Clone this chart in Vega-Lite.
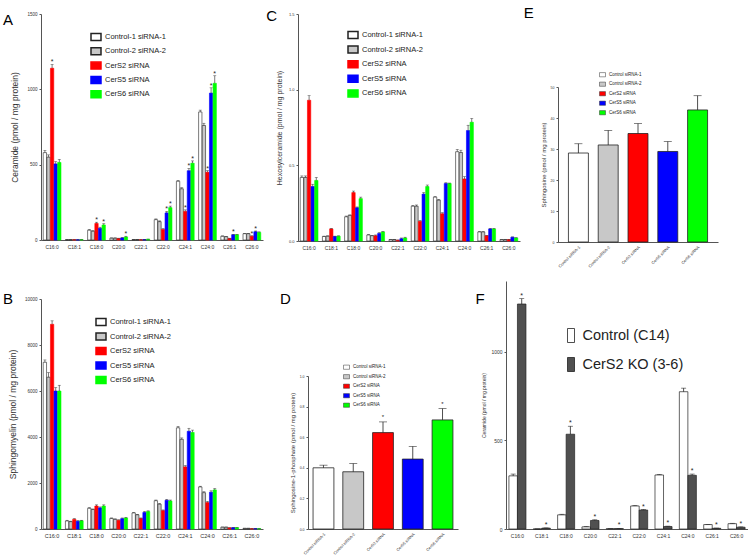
{
"$schema": "https://vega.github.io/schema/vega-lite/v6.json",
"background": "white",
"padding": {"left": 3, "top": 6, "right": 0, "bottom": 0},
"config": {
 "view": {"stroke": null},
 "font": "Liberation Sans",
 "axis": {"grid": false, "domainColor": "#555", "tickColor": "#555", "labelColor": "#333", "titleColor": "#333", "titleFontWeight": "normal", "domainWidth": 1},
 "legend": {"padding": 0, "labelColor": "#222", "labelFont": "Liberation Sans"},
 "title": {"anchor": "start", "frame": "group", "orient": "top", "offset": 0, "fontSize": 15, "fontWeight": "normal", "baseline": "bottom", "align": "left", "color": "#000"}
},
"datasets": {
 "A": [
  {"lipid":"C16:0","g":"Control-1 siRNA-1","v":580,"hi":595,"s":""},
  {"lipid":"C16:0","g":"Control-2 siRNA-2","v":550,"hi":565,"s":""},
  {"lipid":"C16:0","g":"CerS2 siRNA","v":1140,"hi":1165,"s":"*"},
  {"lipid":"C16:0","g":"CerS5 siRNA","v":505,"hi":520,"s":""},
  {"lipid":"C16:0","g":"CerS6 siRNA","v":515,"hi":535,"s":""},
  {"lipid":"C18:1","g":"Control-1 siRNA-1","v":2,"hi":3,"s":""},
  {"lipid":"C18:1","g":"Control-2 siRNA-2","v":2,"hi":3,"s":""},
  {"lipid":"C18:1","g":"CerS2 siRNA","v":2,"hi":3,"s":""},
  {"lipid":"C18:1","g":"CerS5 siRNA","v":2,"hi":3,"s":""},
  {"lipid":"C18:1","g":"CerS6 siRNA","v":2,"hi":3,"s":""},
  {"lipid":"C18:0","g":"Control-1 siRNA-1","v":65,"hi":70,"s":""},
  {"lipid":"C18:0","g":"Control-2 siRNA-2","v":58,"hi":62,"s":""},
  {"lipid":"C18:0","g":"CerS2 siRNA","v":110,"hi":118,"s":"*"},
  {"lipid":"C18:0","g":"CerS5 siRNA","v":78,"hi":85,"s":""},
  {"lipid":"C18:0","g":"CerS6 siRNA","v":100,"hi":108,"s":"*"},
  {"lipid":"C20:0","g":"Control-1 siRNA-1","v":12,"hi":14,"s":""},
  {"lipid":"C20:0","g":"Control-2 siRNA-2","v":12,"hi":14,"s":""},
  {"lipid":"C20:0","g":"CerS2 siRNA","v":10,"hi":12,"s":""},
  {"lipid":"C20:0","g":"CerS5 siRNA","v":14,"hi":16,"s":""},
  {"lipid":"C20:0","g":"CerS6 siRNA","v":20,"hi":25,"s":"*"},
  {"lipid":"C22:1","g":"Control-1 siRNA-1","v":3,"hi":4,"s":""},
  {"lipid":"C22:1","g":"Control-2 siRNA-2","v":3,"hi":4,"s":""},
  {"lipid":"C22:1","g":"CerS2 siRNA","v":2,"hi":3,"s":""},
  {"lipid":"C22:1","g":"CerS5 siRNA","v":3,"hi":4,"s":""},
  {"lipid":"C22:1","g":"CerS6 siRNA","v":5,"hi":6,"s":""},
  {"lipid":"C22:0","g":"Control-1 siRNA-1","v":135,"hi":140,"s":""},
  {"lipid":"C22:0","g":"Control-2 siRNA-2","v":122,"hi":127,"s":""},
  {"lipid":"C22:0","g":"CerS2 siRNA","v":70,"hi":76,"s":""},
  {"lipid":"C22:0","g":"CerS5 siRNA","v":180,"hi":190,"s":"*"},
  {"lipid":"C22:0","g":"CerS6 siRNA","v":215,"hi":225,"s":"*"},
  {"lipid":"C24:1","g":"Control-1 siRNA-1","v":390,"hi":395,"s":""},
  {"lipid":"C24:1","g":"Control-2 siRNA-2","v":340,"hi":347,"s":""},
  {"lipid":"C24:1","g":"CerS2 siRNA","v":190,"hi":200,"s":"*"},
  {"lipid":"C24:1","g":"CerS5 siRNA","v":460,"hi":475,"s":"*"},
  {"lipid":"C24:1","g":"CerS6 siRNA","v":510,"hi":525,"s":"*"},
  {"lipid":"C24:0","g":"Control-1 siRNA-1","v":850,"hi":862,"s":""},
  {"lipid":"C24:0","g":"Control-2 siRNA-2","v":760,"hi":775,"s":""},
  {"lipid":"C24:0","g":"CerS2 siRNA","v":450,"hi":460,"s":"*"},
  {"lipid":"C24:0","g":"CerS5 siRNA","v":975,"hi":1010,"s":"*"},
  {"lipid":"C24:0","g":"CerS6 siRNA","v":1040,"hi":1090,"s":"*"},
  {"lipid":"C26:1","g":"Control-1 siRNA-1","v":25,"hi":27,"s":""},
  {"lipid":"C26:1","g":"Control-2 siRNA-2","v":22,"hi":24,"s":""},
  {"lipid":"C26:1","g":"CerS2 siRNA","v":10,"hi":12,"s":""},
  {"lipid":"C26:1","g":"CerS5 siRNA","v":35,"hi":38,"s":"*"},
  {"lipid":"C26:1","g":"CerS6 siRNA","v":35,"hi":38,"s":""},
  {"lipid":"C26:0","g":"Control-1 siRNA-1","v":42,"hi":44,"s":""},
  {"lipid":"C26:0","g":"Control-2 siRNA-2","v":42,"hi":44,"s":""},
  {"lipid":"C26:0","g":"CerS2 siRNA","v":25,"hi":28,"s":"*"},
  {"lipid":"C26:0","g":"CerS5 siRNA","v":55,"hi":60,"s":"*"},
  {"lipid":"C26:0","g":"CerS6 siRNA","v":50,"hi":54,"s":""}
 ],
 "B": [
  {"lipid":"C16:0","g":"Control-1 siRNA-1","v":7250,"hi":7350},
  {"lipid":"C16:0","g":"Control-2 siRNA-2","v":6600,"hi":6800},
  {"lipid":"C16:0","g":"CerS2 siRNA","v":8900,"hi":9050},
  {"lipid":"C16:0","g":"CerS5 siRNA","v":6000,"hi":6150},
  {"lipid":"C16:0","g":"CerS6 siRNA","v":6000,"hi":6250},
  {"lipid":"C18:1","g":"Control-1 siRNA-1","v":350,"hi":380},
  {"lipid":"C18:1","g":"Control-2 siRNA-2","v":320,"hi":340},
  {"lipid":"C18:1","g":"CerS2 siRNA","v":420,"hi":450},
  {"lipid":"C18:1","g":"CerS5 siRNA","v":340,"hi":360},
  {"lipid":"C18:1","g":"CerS6 siRNA","v":360,"hi":380},
  {"lipid":"C18:0","g":"Control-1 siRNA-1","v":900,"hi":930},
  {"lipid":"C18:0","g":"Control-2 siRNA-2","v":850,"hi":870},
  {"lipid":"C18:0","g":"CerS2 siRNA","v":1000,"hi":1050},
  {"lipid":"C18:0","g":"CerS5 siRNA","v":920,"hi":960},
  {"lipid":"C18:0","g":"CerS6 siRNA","v":1000,"hi":1050},
  {"lipid":"C20:0","g":"Control-1 siRNA-1","v":460,"hi":480},
  {"lipid":"C20:0","g":"Control-2 siRNA-2","v":420,"hi":440},
  {"lipid":"C20:0","g":"CerS2 siRNA","v":380,"hi":400},
  {"lipid":"C20:0","g":"CerS5 siRNA","v":450,"hi":480},
  {"lipid":"C20:0","g":"CerS6 siRNA","v":480,"hi":510},
  {"lipid":"C22:1","g":"Control-1 siRNA-1","v":700,"hi":720},
  {"lipid":"C22:1","g":"Control-2 siRNA-2","v":620,"hi":640},
  {"lipid":"C22:1","g":"CerS2 siRNA","v":460,"hi":480},
  {"lipid":"C22:1","g":"CerS5 siRNA","v":720,"hi":760},
  {"lipid":"C22:1","g":"CerS6 siRNA","v":760,"hi":790},
  {"lipid":"C22:0","g":"Control-1 siRNA-1","v":1230,"hi":1260},
  {"lipid":"C22:0","g":"Control-2 siRNA-2","v":1080,"hi":1110},
  {"lipid":"C22:0","g":"CerS2 siRNA","v":800,"hi":830},
  {"lipid":"C22:0","g":"CerS5 siRNA","v":1250,"hi":1290},
  {"lipid":"C22:0","g":"CerS6 siRNA","v":1220,"hi":1260},
  {"lipid":"C24:1","g":"Control-1 siRNA-1","v":4400,"hi":4460},
  {"lipid":"C24:1","g":"Control-2 siRNA-2","v":3900,"hi":3960},
  {"lipid":"C24:1","g":"CerS2 siRNA","v":2700,"hi":2760},
  {"lipid":"C24:1","g":"CerS5 siRNA","v":4250,"hi":4380},
  {"lipid":"C24:1","g":"CerS6 siRNA","v":4200,"hi":4300},
  {"lipid":"C24:0","g":"Control-1 siRNA-1","v":1830,"hi":1860},
  {"lipid":"C24:0","g":"Control-2 siRNA-2","v":1580,"hi":1620},
  {"lipid":"C24:0","g":"CerS2 siRNA","v":1150,"hi":1200},
  {"lipid":"C24:0","g":"CerS5 siRNA","v":1600,"hi":1660},
  {"lipid":"C24:0","g":"CerS6 siRNA","v":1700,"hi":1760},
  {"lipid":"C26:1","g":"Control-1 siRNA-1","v":80,"hi":85},
  {"lipid":"C26:1","g":"Control-2 siRNA-2","v":80,"hi":85},
  {"lipid":"C26:1","g":"CerS2 siRNA","v":50,"hi":55},
  {"lipid":"C26:1","g":"CerS5 siRNA","v":60,"hi":65},
  {"lipid":"C26:1","g":"CerS6 siRNA","v":60,"hi":65},
  {"lipid":"C26:0","g":"Control-1 siRNA-1","v":30,"hi":33},
  {"lipid":"C26:0","g":"Control-2 siRNA-2","v":30,"hi":33},
  {"lipid":"C26:0","g":"CerS2 siRNA","v":15,"hi":18},
  {"lipid":"C26:0","g":"CerS5 siRNA","v":20,"hi":23},
  {"lipid":"C26:0","g":"CerS6 siRNA","v":15,"hi":18}
 ],
 "C": [
  {"lipid":"C16:0","g":"Control-1 siRNA-1","v":0.42,"hi":0.43},
  {"lipid":"C16:0","g":"Control-2 siRNA-2","v":0.42,"hi":0.43},
  {"lipid":"C16:0","g":"CerS2 siRNA","v":0.93,"hi":0.96},
  {"lipid":"C16:0","g":"CerS5 siRNA","v":0.36,"hi":0.375},
  {"lipid":"C16:0","g":"CerS6 siRNA","v":0.40,"hi":0.42},
  {"lipid":"C18:1","g":"Control-1 siRNA-1","v":0.03,"hi":0.032},
  {"lipid":"C18:1","g":"Control-2 siRNA-2","v":0.032,"hi":0.034},
  {"lipid":"C18:1","g":"CerS2 siRNA","v":0.08,"hi":0.083},
  {"lipid":"C18:1","g":"CerS5 siRNA","v":0.03,"hi":0.032},
  {"lipid":"C18:1","g":"CerS6 siRNA","v":0.032,"hi":0.034},
  {"lipid":"C18:0","g":"Control-1 siRNA-1","v":0.16,"hi":0.165},
  {"lipid":"C18:0","g":"Control-2 siRNA-2","v":0.17,"hi":0.172},
  {"lipid":"C18:0","g":"CerS2 siRNA","v":0.32,"hi":0.33},
  {"lipid":"C18:0","g":"CerS5 siRNA","v":0.22,"hi":0.225},
  {"lipid":"C18:0","g":"CerS6 siRNA","v":0.28,"hi":0.29},
  {"lipid":"C20:0","g":"Control-1 siRNA-1","v":0.04,"hi":0.042},
  {"lipid":"C20:0","g":"Control-2 siRNA-2","v":0.035,"hi":0.037},
  {"lipid":"C20:0","g":"CerS2 siRNA","v":0.035,"hi":0.04},
  {"lipid":"C20:0","g":"CerS5 siRNA","v":0.05,"hi":0.055},
  {"lipid":"C20:0","g":"CerS6 siRNA","v":0.06,"hi":0.063},
  {"lipid":"C22:1","g":"Control-1 siRNA-1","v":0.01,"hi":0.011},
  {"lipid":"C22:1","g":"Control-2 siRNA-2","v":0.01,"hi":0.011},
  {"lipid":"C22:1","g":"CerS2 siRNA","v":0.005,"hi":0.007},
  {"lipid":"C22:1","g":"CerS5 siRNA","v":0.015,"hi":0.02},
  {"lipid":"C22:1","g":"CerS6 siRNA","v":0.02,"hi":0.025},
  {"lipid":"C22:0","g":"Control-1 siRNA-1","v":0.23,"hi":0.235},
  {"lipid":"C22:0","g":"Control-2 siRNA-2","v":0.23,"hi":0.238},
  {"lipid":"C22:0","g":"CerS2 siRNA","v":0.13,"hi":0.135},
  {"lipid":"C22:0","g":"CerS5 siRNA","v":0.31,"hi":0.32},
  {"lipid":"C22:0","g":"CerS6 siRNA","v":0.36,"hi":0.37},
  {"lipid":"C24:1","g":"Control-1 siRNA-1","v":0.29,"hi":0.293},
  {"lipid":"C24:1","g":"Control-2 siRNA-2","v":0.27,"hi":0.275},
  {"lipid":"C24:1","g":"CerS2 siRNA","v":0.18,"hi":0.187},
  {"lipid":"C24:1","g":"CerS5 siRNA","v":0.38,"hi":0.385},
  {"lipid":"C24:1","g":"CerS6 siRNA","v":0.38,"hi":0.383},
  {"lipid":"C24:0","g":"Control-1 siRNA-1","v":0.59,"hi":0.605},
  {"lipid":"C24:0","g":"Control-2 siRNA-2","v":0.585,"hi":0.6},
  {"lipid":"C24:0","g":"CerS2 siRNA","v":0.41,"hi":0.425},
  {"lipid":"C24:0","g":"CerS5 siRNA","v":0.73,"hi":0.765},
  {"lipid":"C24:0","g":"CerS6 siRNA","v":0.785,"hi":0.81},
  {"lipid":"C26:1","g":"Control-1 siRNA-1","v":0.06,"hi":0.062},
  {"lipid":"C26:1","g":"Control-2 siRNA-2","v":0.06,"hi":0.062},
  {"lipid":"C26:1","g":"CerS2 siRNA","v":0.035,"hi":0.037},
  {"lipid":"C26:1","g":"CerS5 siRNA","v":0.08,"hi":0.083},
  {"lipid":"C26:1","g":"CerS6 siRNA","v":0.08,"hi":0.083},
  {"lipid":"C26:0","g":"Control-1 siRNA-1","v":0.01,"hi":0.011},
  {"lipid":"C26:0","g":"Control-2 siRNA-2","v":0.01,"hi":0.011},
  {"lipid":"C26:0","g":"CerS2 siRNA","v":0.01,"hi":0.011},
  {"lipid":"C26:0","g":"CerS5 siRNA","v":0.025,"hi":0.027},
  {"lipid":"C26:0","g":"CerS6 siRNA","v":0.02,"hi":0.022}
 ],
 "E": [
  {"g":"Control siRNA-1","v":28.7,"hi":31.7,"s":""},
  {"g":"Control siRNA-2","v":31.3,"hi":36,"s":""},
  {"g":"CerS2 siRNA","v":35,"hi":38.2,"s":""},
  {"g":"CerS5 siRNA","v":29.2,"hi":32.4,"s":""},
  {"g":"CerS6 siRNA","v":42.6,"hi":47.2,"s":""}
 ],
 "D": [
  {"g":"Control siRNA-1","v":0.40,"hi":0.417,"s":""},
  {"g":"Control siRNA-2","v":0.374,"hi":0.428,"s":""},
  {"g":"CerS2 siRNA","v":0.63,"hi":0.70,"s":"*"},
  {"g":"CerS5 siRNA","v":0.457,"hi":0.54,"s":""},
  {"g":"CerS6 siRNA","v":0.713,"hi":0.787,"s":"*"}
 ],
 "F": [
  {"lipid":"C16:0","g":"Control (C14)","v":300,"hi":310,"s":""},
  {"lipid":"C16:0","g":"CerS2 KO (3-6)","v":1270,"hi":1300,"s":"*"},
  {"lipid":"C18:1","g":"Control (C14)","v":0,"hi":0,"s":""},
  {"lipid":"C18:1","g":"CerS2 KO (3-6)","v":5,"hi":6,"s":"*"},
  {"lipid":"C18:0","g":"Control (C14)","v":80,"hi":83,"s":""},
  {"lipid":"C18:0","g":"CerS2 KO (3-6)","v":535,"hi":580,"s":"*"},
  {"lipid":"C20:0","g":"Control (C14)","v":12,"hi":14,"s":""},
  {"lipid":"C20:0","g":"CerS2 KO (3-6)","v":48,"hi":52,"s":"*"},
  {"lipid":"C22:1","g":"Control (C14)","v":2,"hi":2,"s":""},
  {"lipid":"C22:1","g":"CerS2 KO (3-6)","v":2,"hi":3,"s":"*"},
  {"lipid":"C22:0","g":"Control (C14)","v":130,"hi":132,"s":""},
  {"lipid":"C22:0","g":"CerS2 KO (3-6)","v":107,"hi":110,"s":"*"},
  {"lipid":"C24:1","g":"Control (C14)","v":305,"hi":308,"s":""},
  {"lipid":"C24:1","g":"CerS2 KO (3-6)","v":14,"hi":16,"s":"*"},
  {"lipid":"C24:0","g":"Control (C14)","v":775,"hi":795,"s":""},
  {"lipid":"C24:0","g":"CerS2 KO (3-6)","v":303,"hi":310,"s":"*"},
  {"lipid":"C26:1","g":"Control (C14)","v":25,"hi":26,"s":""},
  {"lipid":"C26:1","g":"CerS2 KO (3-6)","v":4,"hi":5,"s":"*"},
  {"lipid":"C26:0","g":"Control (C14)","v":30,"hi":32,"s":""},
  {"lipid":"C26:0","g":"CerS2 KO (3-6)","v":10,"hi":12,"s":"*"}
 ]
},
"resolve": {"scale": {"fill": "independent", "stroke": "independent", "x": "independent", "y": "independent", "xOffset": "independent"}},
"spacing": 12,
"vconcat": [
 {
  "spacing": 3,
  "resolve": {"scale": {"fill": "independent", "stroke": "independent", "x": "independent", "y": "independent", "xOffset": "independent"}},
  "hconcat": [
   {
    "width": 222, "height": 226,
    "data": {"name": "A"},
    "title": {"text": "A", "dx": -38, "dy": 21},
    "encoding": {
     "x": {"field": "lipid", "type": "nominal", "sort": ["C16:0","C18:1","C18:0","C20:0","C22:1","C22:0","C24:1","C24:0","C26:1","C26:0"], "scale": {"paddingInner": 0.2, "paddingOuter": 0.1}, "axis": {"title": null, "labelAngle": 0, "ticks": false, "labelFontSize": 5, "labelPadding": 4}},
     "xOffset": {"field": "g", "type": "nominal", "sort": ["Control-1 siRNA-1","Control-2 siRNA-2","CerS2 siRNA","CerS5 siRNA","CerS6 siRNA"], "scale": {"paddingInner": 0.08}}
    },
    "layer": [
     {"mark": {"type": "bar", "strokeWidth": 0.6},
      "encoding": {
       "y": {"field": "v", "type": "quantitative", "title": "Ceramide (pmol / mg protein)", "scale": {"domain": [0, 1500], "nice": false}, "axis": {"values": [0, 500, 1000, 1500], "format": "d", "labelFontSize": 4.5, "tickSize": 2, "labelPadding": 2, "titleFontSize": 8.5, "titlePadding": 7}},
       "fill": {"field": "g", "type": "nominal", "scale": {"domain": ["Control-1 siRNA-1","Control-2 siRNA-2","CerS2 siRNA","CerS5 siRNA","CerS6 siRNA"], "range": ["#ffffff","#c8c8c8","#ff0000","#0000ff","#00ff00"]}, "legend": {"orient": "none", "legendX": 49, "legendY": 17, "title": null, "labelFontSize": 7.5, "symbolType": "M-1,-0.7H1V0.7H-1Z", "symbolSize": 100, "rowPadding": 0.3, "labelOffset": 3}},
       "stroke": {"field": "g", "type": "nominal", "scale": {"domain": ["Control-1 siRNA-1","Control-2 siRNA-2","CerS2 siRNA","CerS5 siRNA","CerS6 siRNA"], "range": ["#222222","#222222","#ff0000","#0000ff","#00ff00"]}, "legend": {"orient": "none", "legendX": 49, "legendY": 17, "title": null, "labelFontSize": 7.5, "symbolType": "M-1,-0.7H1V0.7H-1Z", "symbolSize": 100, "rowPadding": 0.3, "labelOffset": 3}}
      }},
     {"mark": {"type": "rule", "strokeWidth": 0.6, "color": "#222"}, "encoding": {"y": {"field": "v", "type": "quantitative", "title": "Ceramide (pmol / mg protein)"}, "y2": {"field": "hi"}}},
     {"mark": {"type": "tick", "thickness": 0.6, "size": 3, "color": "#222"}, "encoding": {"y": {"field": "hi", "type": "quantitative", "title": "Ceramide (pmol / mg protein)"}}},
     {"mark": {"type": "text", "fontSize": 7, "baseline": "bottom", "dy": 1, "color": "#222"}, "encoding": {"y": {"field": "hi", "type": "quantitative", "title": "Ceramide (pmol / mg protein)"}, "text": {"field": "s"}}}
    ]
   },
   {
    "width": 222, "height": 227,
    "data": {"name": "C"},
    "title": {"text": "C", "dx": -31.7, "dy": 16.25},
    "encoding": {
     "x": {"field": "lipid", "type": "nominal", "sort": ["C16:0","C18:1","C18:0","C20:0","C22:1","C22:0","C24:1","C24:0","C26:1","C26:0"], "scale": {"paddingInner": 0.2, "paddingOuter": 0.1}, "axis": {"title": null, "labelAngle": 0, "ticks": false, "labelFontSize": 5, "labelPadding": 4}},
     "xOffset": {"field": "g", "type": "nominal", "sort": ["Control-1 siRNA-1","Control-2 siRNA-2","CerS2 siRNA","CerS5 siRNA","CerS6 siRNA"], "scale": {"paddingInner": 0.08}}
    },
    "layer": [
     {"mark": {"type": "bar", "strokeWidth": 0.6},
      "encoding": {
       "y": {"field": "v", "type": "quantitative", "title": "Hexosylceramide (pmol / mg protein)", "scale": {"domain": [0, 1.5], "nice": false}, "axis": {"values": [0, 0.5, 1, 1.5], "format": ".1f", "labelFontSize": 4, "tickSize": 2, "labelPadding": 2, "titleFontSize": 7, "titlePadding": 6}},
       "fill": {"field": "g", "type": "nominal", "scale": {"domain": ["Control-1 siRNA-1","Control-2 siRNA-2","CerS2 siRNA","CerS5 siRNA","CerS6 siRNA"], "range": ["#ffffff","#c8c8c8","#ff0000","#0000ff","#00ff00"]}, "legend": {"orient": "none", "legendX": 49, "legendY": 15, "title": null, "labelFontSize": 7.5, "symbolType": "M-1,-0.7H1V0.7H-1Z", "symbolSize": 100, "rowPadding": 0.6, "labelOffset": 3}},
       "stroke": {"field": "g", "type": "nominal", "scale": {"domain": ["Control-1 siRNA-1","Control-2 siRNA-2","CerS2 siRNA","CerS5 siRNA","CerS6 siRNA"], "range": ["#222222","#222222","#ff0000","#0000ff","#00ff00"]}, "legend": {"orient": "none", "legendX": 49, "legendY": 15, "title": null, "labelFontSize": 7.5, "symbolType": "M-1,-0.7H1V0.7H-1Z", "symbolSize": 100, "rowPadding": 0.6, "labelOffset": 3}}
      }},
     {"mark": {"type": "rule", "strokeWidth": 0.6, "color": "#222"}, "encoding": {"y": {"field": "v", "type": "quantitative", "title": "Hexosylceramide (pmol / mg protein)"}, "y2": {"field": "hi"}}},
     {"mark": {"type": "tick", "thickness": 0.6, "size": 3, "color": "#222"}, "encoding": {"y": {"field": "hi", "type": "quantitative", "title": "Hexosylceramide (pmol / mg protein)"}}}
    ]
   },
   {
    "width": 160, "height": 228,
    "data": {"name": "E"},
    "title": {"text": "E", "dx": -34.3, "dy": 11},
    "encoding": {
     "x": {"field": "g", "type": "nominal", "sort": ["Control siRNA-1","Control siRNA-2","CerS2 siRNA","CerS5 siRNA","CerS6 siRNA"], "scale": {"paddingInner": 0.33, "paddingOuter": 0.35}, "axis": {"title": null, "labelAngle": -45, "ticks": false, "labelFontSize": 4, "labelPadding": 3}}
    },
    "layer": [
     {"mark": {"type": "bar", "stroke": "#222", "strokeWidth": 0.8},
      "encoding": {
       "y": {"field": "v", "type": "quantitative", "title": "Sphingosine (pmol / mg protein)", "scale": {"domain": [0, 50], "range": [228, 73], "nice": false}, "axis": {"values": [0, 10, 20, 30, 40, 50], "labelFontSize": 3.5, "tickSize": 2, "labelPadding": 2, "titleFontSize": 6, "titlePadding": 4}},
       "fill": {"field": "g", "type": "nominal", "scale": {"domain": ["Control siRNA-1","Control siRNA-2","CerS2 siRNA","CerS5 siRNA","CerS6 siRNA"], "range": ["#ffffff","#c8c8c8","#ff0000","#0000ff","#00ff00"]}, "legend": {"orient": "none", "legendX": 41, "legendY": 57.2, "title": null, "labelFontSize": 4.5, "symbolType": "M-1,-0.7H1V0.7H-1Z", "symbolSize": 36, "rowPadding": 2.5, "labelOffset": 3, "symbolStrokeColor": "#333", "symbolStrokeWidth": 0.5}}
      }},
     {"mark": {"type": "rule", "strokeWidth": 0.8, "color": "#222"}, "encoding": {"y": {"field": "v", "type": "quantitative", "title": "Sphingosine (pmol / mg protein)"}, "y2": {"field": "hi"}}},
     {"mark": {"type": "tick", "thickness": 0.8, "size": 8, "color": "#222"}, "encoding": {"y": {"field": "hi", "type": "quantitative", "title": "Sphingosine (pmol / mg protein)"}}}
    ]
   }
  ]
 },
 {
  "spacing": 17,
  "resolve": {"scale": {"fill": "independent", "stroke": "independent", "x": "independent", "y": "independent", "xOffset": "independent"}},
  "hconcat": [
   {
    "width": 222, "height": 248,
    "data": {"name": "B"},
    "title": {"text": "B", "dx": -38, "dy": 30},
    "encoding": {
     "x": {"field": "lipid", "type": "nominal", "sort": ["C16:0","C18:1","C18:0","C20:0","C22:1","C22:0","C24:1","C24:0","C26:1","C26:0"], "scale": {"paddingInner": 0.2, "paddingOuter": 0.1}, "axis": {"title": null, "labelAngle": 0, "ticks": false, "labelFontSize": 5.5, "labelPadding": 4}},
     "xOffset": {"field": "g", "type": "nominal", "sort": ["Control-1 siRNA-1","Control-2 siRNA-2","CerS2 siRNA","CerS5 siRNA","CerS6 siRNA"], "scale": {"paddingInner": 0.08}}
    },
    "layer": [
     {"mark": {"type": "bar", "strokeWidth": 0.6},
      "encoding": {
       "y": {"field": "v", "type": "quantitative", "title": "Sphingomyelin (pmol / mg protein)", "scale": {"domain": [0, 10000], "range": [248, 18], "nice": false}, "axis": {"values": [0, 2000, 4000, 6000, 8000, 10000], "format": "d", "labelFontSize": 4.5, "tickSize": 2, "labelPadding": 2, "titleFontSize": 8.5, "titlePadding": 7}},
       "fill": {"field": "g", "type": "nominal", "scale": {"domain": ["Control-1 siRNA-1","Control-2 siRNA-2","CerS2 siRNA","CerS5 siRNA","CerS6 siRNA"], "range": ["#ffffff","#c8c8c8","#ff0000","#0000ff","#00ff00"]}, "legend": {"orient": "none", "legendX": 54, "legendY": 35, "title": null, "labelFontSize": 7.5, "symbolType": "M-1,-0.7H1V0.7H-1Z", "symbolSize": 100, "rowPadding": 0.5, "labelOffset": 3}},
       "stroke": {"field": "g", "type": "nominal", "scale": {"domain": ["Control-1 siRNA-1","Control-2 siRNA-2","CerS2 siRNA","CerS5 siRNA","CerS6 siRNA"], "range": ["#222222","#222222","#ff0000","#0000ff","#00ff00"]}, "legend": {"orient": "none", "legendX": 54, "legendY": 35, "title": null, "labelFontSize": 7.5, "symbolType": "M-1,-0.7H1V0.7H-1Z", "symbolSize": 100, "rowPadding": 0.5, "labelOffset": 3}}
      }},
     {"mark": {"type": "rule", "strokeWidth": 0.6, "color": "#222"}, "encoding": {"y": {"field": "v", "type": "quantitative", "title": "Sphingomyelin (pmol / mg protein)"}, "y2": {"field": "hi"}}},
     {"mark": {"type": "tick", "thickness": 0.6, "size": 3, "color": "#222"}, "encoding": {"y": {"field": "hi", "type": "quantitative", "title": "Sphingomyelin (pmol / mg protein)"}}}
    ]
   },
   {
    "width": 150, "height": 248,
    "data": {"name": "D"},
    "title": {"text": "D", "dx": -28, "dy": 30},
    "encoding": {
     "x": {"field": "g", "type": "nominal", "sort": ["Control siRNA-1","Control siRNA-2","CerS2 siRNA","CerS5 siRNA","CerS6 siRNA"], "scale": {"paddingInner": 0.3, "paddingOuter": 0.17}, "axis": {"title": null, "labelAngle": -45, "ticks": false, "labelFontSize": 4, "labelPadding": 3}}
    },
    "layer": [
     {"mark": {"type": "bar", "stroke": "#222", "strokeWidth": 0.8},
      "encoding": {
       "y": {"field": "v", "type": "quantitative", "title": "Sphingosine-1-phosphate (pmol / mg protein)", "scale": {"domain": [0, 1], "range": [248, 95], "nice": false}, "axis": {"values": [0, 0.2, 0.4, 0.6, 0.8, 1], "format": ".1f", "labelFontSize": 3.5, "tickSize": 2, "labelPadding": 2, "titleFontSize": 6, "titlePadding": 4}},
       "fill": {"field": "g", "type": "nominal", "scale": {"domain": ["Control siRNA-1","Control siRNA-2","CerS2 siRNA","CerS5 siRNA","CerS6 siRNA"], "range": ["#ffffff","#c8c8c8","#ff0000","#0000ff","#00ff00"]}, "legend": {"orient": "none", "legendX": 35, "legendY": 82.7, "title": null, "labelFontSize": 4.5, "symbolType": "M-1,-0.7H1V0.7H-1Z", "symbolSize": 36, "rowPadding": 2.5, "labelOffset": 3, "symbolStrokeColor": "#333", "symbolStrokeWidth": 0.5}}
      }},
     {"mark": {"type": "rule", "strokeWidth": 0.8, "color": "#222"}, "encoding": {"y": {"field": "v", "type": "quantitative", "title": "Sphingosine-1-phosphate (pmol / mg protein)"}, "y2": {"field": "hi"}}},
     {"mark": {"type": "tick", "thickness": 0.8, "size": 8, "color": "#222"}, "encoding": {"y": {"field": "hi", "type": "quantitative", "title": "Sphingosine-1-phosphate (pmol / mg protein)"}}},
     {"mark": {"type": "text", "fontSize": 6, "baseline": "bottom", "dy": -2, "color": "#222"}, "encoding": {"y": {"field": "hi", "type": "quantitative", "title": "Sphingosine-1-phosphate (pmol / mg protein)"}, "text": {"field": "s"}}}
    ]
   },
   {
    "width": 242, "height": 248,
    "data": {"name": "F"},
    "title": {"text": "F", "dx": -30.5, "dy": 30},
    "encoding": {
     "x": {"field": "lipid", "type": "nominal", "sort": ["C16:0","C18:1","C18:0","C20:0","C22:1","C22:0","C24:1","C24:0","C26:1","C26:0"], "scale": {"paddingInner": 0.3, "paddingOuter": 0.12}, "axis": {"title": null, "labelAngle": 0, "ticks": false, "labelFontSize": 5, "labelPadding": 4}},
     "xOffset": {"field": "g", "type": "nominal", "sort": ["Control (C14)","CerS2 KO (3-6)"], "scale": {"paddingInner": 0}}
    },
    "layer": [
     {"mark": {"type": "bar", "stroke": "#222", "strokeWidth": 0.7},
      "encoding": {
       "y": {"field": "v", "type": "quantitative", "title": "Ceramide (pmol / mg protein)", "scale": {"domain": [0, 1400], "nice": false}, "axis": {"values": [0, 500, 1000], "format": "d", "labelFontSize": 5, "tickSize": 2, "labelPadding": 2, "titleFontSize": 5, "titlePadding": 4}},
       "fill": {"field": "g", "type": "nominal", "scale": {"domain": ["Control (C14)","CerS2 KO (3-6)"], "range": ["#ffffff","#505050"]}, "legend": {"orient": "none", "legendX": 57.5, "legendY": 47, "title": null, "labelFontSize": 14.5, "symbolType": "M-0.5,-1H0.5V1H-0.5Z", "symbolSize": 196, "rowPadding": 10, "labelOffset": 4, "symbolStrokeColor": "#222", "symbolStrokeWidth": 0.8}}
      }},
     {"mark": {"type": "rule", "strokeWidth": 0.8, "color": "#222"}, "encoding": {"y": {"field": "v", "type": "quantitative", "title": "Ceramide (pmol / mg protein)"}, "y2": {"field": "hi"}}},
     {"mark": {"type": "tick", "thickness": 0.8, "size": 5, "color": "#222"}, "encoding": {"y": {"field": "hi", "type": "quantitative", "title": "Ceramide (pmol / mg protein)"}}},
     {"mark": {"type": "text", "fontSize": 7, "baseline": "bottom", "dy": 0, "color": "#222"}, "encoding": {"y": {"field": "hi", "type": "quantitative", "title": "Ceramide (pmol / mg protein)"}, "text": {"field": "s"}}}
    ]
   }
  ]
 }
]
}
